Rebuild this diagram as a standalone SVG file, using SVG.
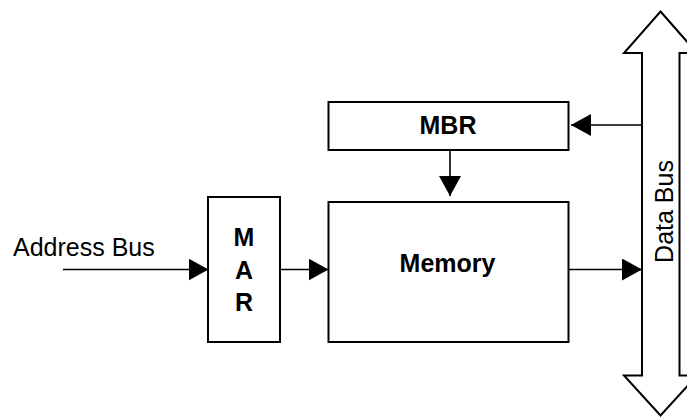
<svg xmlns="http://www.w3.org/2000/svg" width="687" height="417" viewBox="0 0 687 417">
<style>
.box{fill:#fff;stroke:#000;stroke-width:2}
.ln{fill:none;stroke:#000;stroke-width:1.6}
.lbl{font-family:"Liberation Sans",Arial,sans-serif;font-size:25px;fill:#000}
.b{font-weight:bold;text-anchor:middle}
</style>
<defs>
<marker id="ah" viewBox="0 0 20 22" refX="20" refY="11" markerWidth="20" markerHeight="22" markerUnits="userSpaceOnUse" orient="auto">
<path d="M0,0 L20,11 L0,22 Z" fill="#000"/>
</marker>
</defs>
<g id="data-bus">
<path class="box" d="M660.5,11.5 L697,53 L679.5,53 L679.5,375.5 L697,375.5 L660.5,415.5 L624,375.5 L642,375.5 L642,53 L624,53 Z"/>
<text class="lbl" transform="translate(673,211.5) rotate(-90)" text-anchor="middle">Data Bus</text>
</g>
<g id="address-bus">
<text class="lbl" x="13" y="256" font-size="26">Address Bus</text>
</g>
<g id="mar">
<rect class="box" x="208" y="197" width="72" height="145"/>
<text class="lbl b" x="244" y="246" font-size="23">M</text>
<text class="lbl b" x="244" y="278.5" font-size="23">A</text>
<text class="lbl b" x="244" y="311" font-size="23">R</text>
</g>
<g id="mbr">
<rect class="box" x="328.5" y="102" width="240" height="48"/>
<text class="lbl b" x="448" y="134">MBR</text>
</g>
<g id="memory">
<rect class="box" x="328.5" y="202" width="240" height="140"/>
<text class="lbl b" x="447.5" y="272" font-size="26">Memory</text>
</g>
<g id="connectors">
<line class="ln" x1="63" y1="269.5" x2="208.5" y2="269.5" marker-end="url(#ah)"/>
<line class="ln" x1="280" y1="269.5" x2="328.5" y2="269.5" marker-end="url(#ah)"/>
<line class="ln" x1="450" y1="150" x2="450" y2="196" marker-end="url(#ah)"/>
<line class="ln" x1="642" y1="125" x2="571" y2="125" marker-end="url(#ah)"/>
<line class="ln" x1="568.5" y1="269.5" x2="642" y2="269.5" marker-end="url(#ah)"/>
</g>
</svg>
